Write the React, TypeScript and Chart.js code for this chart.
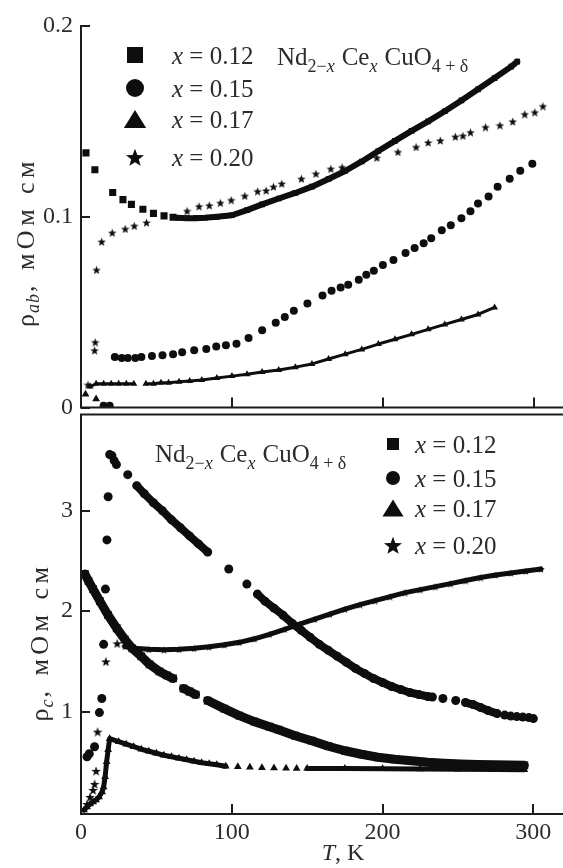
import React, { useEffect, useRef } from "react";
import { Chart, registerables } from "chart.js";

Chart.register(...registerables);

const SERIF = "'Liberation Serif', 'Times New Roman', Times, serif";
const INK = "#0e0e0e";
const TEXT = "#2c2c2c";
const AXIS = "#1c1c1c";

// ---------- axes ----------
const X_MIN = 0;
const X_MAX = 316;
const xTickValues = [0, 100, 200, 300];
const AB_MIN = 0;
const AB_MAX = 0.2;
const abTickValues = [0, 0.1, 0.2];
const C_MIN = -0.02;
const C_MAX = 3.96;
const cTickValues = [1, 2, 3];
const seriesX = ["0.12", "0.15", "0.17", "0.20"];
const markerKinds = ["square", "circle", "triangle", "star"];

// ---------- upper panel: rho_ab (mOhm cm) vs T (K) ----------
const abT012Pts = [3.3, 9.2, 21, 27.8, 33.4, 41, 48, 55, 61];
const abR012Pts = [0.1335, 0.1247, 0.1127, 0.109, 0.1065, 0.104, 0.1018, 0.1005, 0.0998];
const abT012Line = [64, 70, 76, 82, 90, 100, 110, 120, 131, 142, 153, 164, 175, 186, 197, 208, 219, 230, 241, 252, 263, 274, 285, 289];
const abR012Line = [0.0995, 0.0993, 0.0993, 0.0995, 0.1, 0.1008, 0.1035, 0.1065, 0.1096, 0.1125, 0.1158, 0.1198, 0.124, 0.129, 0.1345, 0.1398, 0.145, 0.15, 0.1553, 0.161, 0.1668, 0.1727, 0.1787, 0.1813];

const abT015 = [15, 19, 22.4, 27, 31, 36, 40, 47, 54, 61, 67, 75, 83, 89.6, 96, 103, 111, 120, 129, 135, 141, 150, 160, 166, 172, 177, 184, 189, 194, 200, 207, 215, 221, 227, 232, 239, 245, 252, 258, 263, 270, 276, 284, 291, 299];
const abR015 = [0.001, 0.001, 0.0265, 0.026, 0.026, 0.026, 0.0265, 0.027, 0.0275, 0.028, 0.029, 0.03, 0.0307, 0.032, 0.0327, 0.0335, 0.0365, 0.0405, 0.0445, 0.0475, 0.0508, 0.0545, 0.0587, 0.0613, 0.0629, 0.0644, 0.067, 0.0696, 0.0717, 0.0748, 0.0774, 0.081, 0.0836, 0.0862, 0.0888, 0.093, 0.0956, 0.0992, 0.1029, 0.107, 0.1106, 0.1158, 0.12, 0.1242, 0.1278];

const abT017Pts = [3, 10];
const abR017Pts = [0.007, 0.0045];
const abT017Line = [6, 10, 15, 20, 25, 30, 35, 39, 43, 48, 53, 58, 65, 72, 80, 90, 100, 110, 120, 131, 142, 153, 164, 175, 186, 197, 208, 219, 230, 241, 252, 263, 274];
const abR017Line = [0.011, 0.0125, 0.0125, 0.0125, 0.0125, 0.0125, 0.0125, null, 0.0125, 0.0125, 0.013, 0.013, 0.0135, 0.014, 0.0145, 0.0155, 0.0165, 0.0175, 0.0187, 0.0197, 0.0212, 0.0229, 0.0255, 0.028, 0.0305, 0.0333, 0.0358, 0.0384, 0.041, 0.0436, 0.0462, 0.0488, 0.0525];

const abT020 = [4.6, 9.0, 9.4, 10.3, 13.7, 20.7, 29.3, 35.3, 43.4, 70.3, 78.2, 85, 92.3, 99.5, 108.5, 117, 122.6, 127.5, 133, 146, 155.6, 165.5, 173, 196, 210, 222, 230, 238, 248, 253, 258, 268, 277.5, 286, 294, 300.6, 306];
const abR020 = [0.012, 0.03, 0.0343, 0.0722, 0.087, 0.0917, 0.0937, 0.0953, 0.097, 0.1031, 0.1055, 0.106, 0.1073, 0.1088, 0.111, 0.1134, 0.1138, 0.1158, 0.1174, 0.12, 0.1226, 0.1252, 0.126, 0.131, 0.134, 0.1366, 0.139, 0.14, 0.142, 0.1425, 0.1443, 0.147, 0.148, 0.15, 0.1538, 0.1548, 0.158];

// ---------- lower panel: rho_c (mOhm cm) vs T (K) ----------
const cT012 = [2.6, 5, 8, 12.5, 18, 23.7, 29, 34, 40, 45.5, 52, 57, 61, 64.5, 68, 72, 76, 80, 84, 95, 105, 115, 125, 131, 142, 153, 164, 175, 186, 197, 208, 219, 230, 241, 252, 263, 274, 284, 294];
const cR012 = [2.37, 2.3, 2.22, 2.1, 1.96, 1.83, 1.72, 1.63, 1.55, 1.47, 1.4, 1.36, 1.33, null, 1.23, 1.2, 1.17, null, 1.11, 1.03, 0.96, 0.9, 0.85, 0.82, 0.76, 0.71, 0.655, 0.61, 0.575, 0.545, 0.525, 0.51, 0.495, 0.485, 0.478, 0.473, 0.47, 0.467, 0.465];

const cT015Pts = [4, 5.5, 9, 12.2, 13.8, 15, 16.2, 17.2, 18, 19, 20.5, 22, 23.5, 31, 98, 110, 240, 248.5, 281, 285, 289, 293, 297, 300];
const cR015Pts = [0.55, 0.58, 0.65, 0.99, 1.13, 1.67, 2.22, 2.71, 3.14, 3.56, 3.55, 3.5, 3.46, 3.36, 2.42, 2.27, 1.13, 1.11, 0.965, 0.955, 0.95, 0.945, 0.94, 0.93];
const cT015Line = [37, 42, 48, 54, 60, 66, 72, 78, 84, 91, 117, 122, 128, 134, 140, 146, 152, 158, 164, 170, 176, 182, 188, 194, 200, 206, 212, 218, 224, 230, 233, 245, 255, 260, 265, 270, 276];
const cR015Line = [3.25, 3.17, 3.08, 3.0, 2.91, 2.83, 2.75, 2.67, 2.59, null, 2.17, 2.1, 2.03, 1.96, 1.88, 1.81, 1.74, 1.67, 1.61, 1.55, 1.49, 1.43, 1.38, 1.33, 1.29, 1.25, 1.22, 1.19, 1.17, 1.15, 1.145, null, 1.09, 1.07, 1.04, 1.01, 0.98];

const cT017Line = [2, 4, 6, 8, 10, 12, 14, 15, 16, 17, 18, 19, 25, 30, 35, 40, 45, 50, 55, 60, 65, 70, 75, 80, 85, 90, 96, 100, 150, 175, 200, 225, 250, 275, 294];
const cR017Line = [0.02, 0.05, 0.08, 0.1, 0.12, 0.15, 0.2, 0.25, 0.35, 0.5, 0.62, 0.73, 0.7, 0.675, 0.65, 0.625, 0.605, 0.585, 0.565, 0.55, 0.535, 0.52, 0.505, 0.49, 0.48, 0.47, 0.455, null, 0.433, 0.432, 0.43, 0.428, 0.426, 0.424, 0.42];
const cT017Pts = [104, 112, 120, 128, 136, 143];
const cR017Pts = [0.45, 0.445, 0.44, 0.437, 0.435, 0.434];

const cT020Pts = [4, 6, 8, 9, 10, 11, 16.5, 24];
const cR020Pts = [0.08, 0.15, 0.22, 0.28, 0.41, 0.8, 1.5, 1.68];
const cT020Line = [29, 35, 45, 55, 65, 75, 85, 95, 105, 115, 125, 135, 145, 155, 165, 175, 185, 195, 205, 215, 225, 235, 245, 255, 265, 275, 285, 295, 305];
const cR020Line = [1.65, 1.63, 1.62, 1.615, 1.62, 1.63, 1.645, 1.665, 1.69, 1.725, 1.77, 1.82, 1.87, 1.92, 1.97, 2.02, 2.065, 2.105, 2.145, 2.185, 2.215, 2.245, 2.275, 2.305, 2.335, 2.36, 2.38, 2.4, 2.42];

// ---------- helpers ----------
const xy = (ts: number[], vs: (number | null)[]) => ts.map((t, i) => ({ x: t, y: vs[i] }));

function starPath(ctx: CanvasRenderingContext2D, cx: number, cy: number, r: number) {
  const ri = r * 0.42;
  ctx.beginPath();
  for (let k = 0; k < 10; k++) {
    const rr = k % 2 ? ri : r;
    const a = -Math.PI / 2 + (k * Math.PI) / 5;
    const px = cx + rr * Math.cos(a);
    const py = cy + rr * Math.sin(a);
    if (k === 0) ctx.moveTo(px, py);
    else ctx.lineTo(px, py);
  }
  ctx.closePath();
}

function starImage(d: number) {
  const c = document.createElement("canvas");
  c.width = d;
  c.height = d;
  const g = c.getContext("2d")!;
  g.fillStyle = INK;
  starPath(g, d / 2, d / 2 + d * 0.06, d / 2);
  g.fill();
  return c;
}

function pointsDs(data: any[], style: any, radius: number) {
  return {
    data,
    showLine: false,
    pointStyle: style,
    pointRadius: radius,
    pointHoverRadius: radius,
    pointBackgroundColor: INK,
    pointBorderColor: INK,
    pointBorderWidth: 0,
    borderColor: INK,
    backgroundColor: INK,
  };
}

function curveDs(data: any[], style: any, radius: number, width: number) {
  return {
    data,
    showLine: true,
    spanGaps: false,
    tension: 0,
    borderWidth: width,
    borderColor: INK,
    backgroundColor: INK,
    borderJoinStyle: "round",
    borderCapStyle: "round",
    pointStyle: style,
    pointRadius: radius,
    pointHoverRadius: radius,
    pointBackgroundColor: INK,
    pointBorderColor: INK,
    pointBorderWidth: 0,
  };
}

type Run = { t: string; size: number; italic?: boolean; dy?: number; gap?: number; ls?: number };
const runFont = (r: Run) => `${r.italic ? "italic " : ""}${r.size}px ${SERIF}`;
function runWidth(ctx: CanvasRenderingContext2D, r: Run) {
  ctx.font = runFont(r);
  const ls = r.ls || 0;
  if (!ls) return ctx.measureText(r.t).width;
  let w = 0;
  for (const ch of Array.from(r.t)) w += ctx.measureText(ch).width + ls;
  return w;
}
function richWidth(ctx: CanvasRenderingContext2D, runs: Run[]) {
  let w = 0;
  for (const r of runs) w += runWidth(ctx, r) + (r.gap || 0);
  return w;
}
function drawRich(ctx: CanvasRenderingContext2D, runs: Run[], x: number, y: number) {
  ctx.textAlign = "left";
  ctx.textBaseline = "alphabetic";
  let cx = x;
  for (const r of runs) {
    ctx.font = runFont(r);
    const ls = r.ls || 0;
    if (!ls) {
      ctx.fillText(r.t, cx, y + (r.dy || 0));
      cx += ctx.measureText(r.t).width;
    } else {
      for (const ch of Array.from(r.t)) {
        ctx.fillText(ch, cx, y + (r.dy || 0));
        cx += ctx.measureText(ch).width + ls;
      }
    }
    cx += r.gap || 0;
  }
  return cx;
}

const formulaRuns = (M: number, S: number, d: number): Run[] => [
  { t: "Nd", size: M },
  { t: "2−", size: S, dy: d },
  { t: "x", size: S, italic: true, dy: d, gap: M * 0.28 },
  { t: "Ce", size: M },
  { t: "x", size: S, italic: true, dy: d, gap: M * 0.28 },
  { t: "CuO", size: M },
  { t: "4 + δ", size: S, dy: d },
];

function drawMarker(ctx: CanvasRenderingContext2D, kind: string, x: number, y: number, s: number) {
  ctx.fillStyle = INK;
  ctx.beginPath();
  if (kind === "square") {
    ctx.rect(x - s / 2, y - s / 2, s, s);
  } else if (kind === "circle") {
    ctx.arc(x, y, s / 2, 0, Math.PI * 2);
  } else if (kind === "triangle") {
    ctx.moveTo(x, y - s * 0.5);
    ctx.lineTo(x + s * 0.62, y + s * 0.5);
    ctx.lineTo(x - s * 0.62, y + s * 0.5);
    ctx.closePath();
  } else {
    starPath(ctx, x, y + s * 0.06, s / 2);
  }
  ctx.fill();
}

function drawLegend(
  ctx: CanvasRenderingContext2D,
  mx: number,
  tx: number,
  rows: number[],
  sizes: number[],
  fs: number
) {
  rows.forEach((y, i) => {
    drawMarker(ctx, markerKinds[i], mx, y, sizes[i]);
    ctx.fillStyle = TEXT;
    drawRich(ctx, [{ t: "x", size: fs, italic: true }, { t: " = " + seriesX[i], size: fs }], tx, y + fs * 0.34);
  });
}

function drawYTitle(ctx: CanvasRenderingContext2D, sub: string, cx: number, cy: number) {
  const runs: Run[] = [
    { t: "ρ", size: 26, gap: 1 },
    { t: sub, size: 18, italic: true, dy: 5, ls: 1, gap: 1 },
    { t: ", мОм см", size: 26, ls: 4.5 },
  ];
  ctx.save();
  ctx.translate(cx, cy);
  ctx.rotate(-Math.PI / 2);
  ctx.fillStyle = TEXT;
  const w = richWidth(ctx, runs);
  drawRich(ctx, runs, -w / 2, 7);
  ctx.restore();
}

function framePlugin(yId: string, yTicks: number[], topLine: boolean, deco: (ctx: CanvasRenderingContext2D) => void) {
  return {
    id: "frame_" + yId,
    afterDatasetsDraw(chart: any) {
      const { ctx, chartArea: a, scales } = chart;
      const xs = scales.x;
      const ys = scales[yId];
      const W = chart.width;
      ctx.save();
      ctx.strokeStyle = AXIS;
      ctx.lineWidth = 2;
      ctx.beginPath();
      ctx.moveTo(a.left, a.top - 1);
      ctx.lineTo(a.left, a.bottom + 1);
      ctx.moveTo(a.left - 1, a.bottom);
      ctx.lineTo(W, a.bottom);
      if (topLine) {
        ctx.moveTo(a.left - 1, a.top);
        ctx.lineTo(W, a.top);
      }
      for (const v of yTicks) {
        const y = Math.round(ys.getPixelForValue(v));
        ctx.moveTo(a.left, y);
        ctx.lineTo(a.left + 9, y);
      }
      for (const v of xTickValues) {
        if (v === 0) continue;
        const x = Math.round(xs.getPixelForValue(v));
        ctx.moveTo(x, a.bottom);
        ctx.lineTo(x, a.bottom - 10);
      }
      ctx.stroke();
      ctx.restore();
      ctx.save();
      deco(ctx);
      ctx.restore();
    },
  };
}

function yScale(min: number, max: number, ticks: number[]) {
  return {
    type: "linear",
    min,
    max,
    afterFit: (s: any) => {
      s.width = 81;
    },
    afterBuildTicks: (s: any) => {
      s.ticks = ticks.map((v) => ({ value: v }));
    },
    grid: { display: false, drawTicks: false },
    border: { display: false },
    ticks: {
      color: TEXT,
      padding: 8,
      autoSkip: false,
      font: { family: SERIF, size: 24 },
      callback: (v: any) => String(v),
    },
  };
}

const commonOptions = {
  responsive: false,
  maintainAspectRatio: false,
  animation: false,
  events: [],
  plugins: { legend: { display: false }, tooltip: { enabled: false } },
};

function makeTop(canvas: HTMLCanvasElement) {
  const star = starImage(9);
  return new Chart(canvas, {
    type: "line",
    data: {
      datasets: [
        pointsDs(xy(abT012Pts, abR012Pts), "rect", 5),
        curveDs(xy(abT012Line, abR012Line), "rect", 4, 6),
        pointsDs(xy(abT015, abR015), "circle", 4),
        pointsDs(xy(abT017Pts, abR017Pts), "triangle", 4.5),
        curveDs(xy(abT017Line, abR017Line), "triangle", 4, 3),
        pointsDs(xy(abT020, abR020), star, 3.5),
      ] as any,
    },
    options: {
      ...commonOptions,
      layout: { padding: { top: 26, bottom: 18, left: 0, right: 3 } },
      scales: {
        x: { type: "linear", min: X_MIN, max: X_MAX, display: false },
        y: yScale(AB_MIN, AB_MAX, abTickValues),
      },
    } as any,
    plugins: [
      framePlugin("y", abTickValues, false, (ctx) => {
        ctx.fillStyle = TEXT;
        drawRich(ctx, formulaRuns(25, 18, 7), 277, 65);
        drawLegend(ctx, 135, 172, [55, 88, 119, 157], [16, 18, 18, 19], 25);
        drawYTitle(ctx, "ab", 27, 242);
      }),
    ] as any,
  });
}

function makeBottom(canvas: HTMLCanvasElement) {
  const starBig = starImage(10);
  const starSmall = starImage(8);
  const OFF = 392;
  return new Chart(canvas, {
    type: "line",
    data: {
      datasets: [
        curveDs(xy(cT012, cR012), "rect", 5.5, 9),
        pointsDs(xy(cT015Pts, cR015Pts), "circle", 4.5),
        curveDs(xy(cT015Line, cR015Line), "circle", 4.5, 8),
        curveDs(xy(cT017Line, cR017Line), "triangle", 4.5, 5),
        pointsDs(xy(cT017Pts, cR017Pts), "triangle", 4.5),
        pointsDs(xy(cT020Pts, cR020Pts), starBig, 4),
        curveDs(xy(cT020Line, cR020Line), starSmall, 3.5, 5),
      ] as any,
    },
    options: {
      ...commonOptions,
      layout: { padding: { top: 20, bottom: 0, left: 0, right: 3 } },
      scales: {
        x: {
          type: "linear",
          min: X_MIN,
          max: X_MAX,
          afterFit: (s: any) => {
            s.height = 54;
          },
          afterBuildTicks: (s: any) => {
            s.ticks = xTickValues.map((v) => ({ value: v }));
          },
          grid: { display: false, drawTicks: false },
          border: { display: false },
          ticks: {
            color: TEXT,
            padding: 4,
            maxRotation: 0,
            autoSkip: false,
            font: { family: SERIF, size: 24 },
            callback: (v: any) => String(v),
          },
        },
        y: yScale(C_MIN, C_MAX, cTickValues),
      },
    } as any,
    plugins: [
      framePlugin("y", cTickValues, true, (ctx) => {
        ctx.fillStyle = TEXT;
        drawRich(ctx, formulaRuns(25, 18, 7), 155, 462 - OFF);
        drawLegend(ctx, 393, 415, [444 - OFF, 478 - OFF, 508 - OFF, 545 - OFF], [12, 14, 17, 19], 25);
        drawYTitle(ctx, "c", 41, 642 - OFF);
        ctx.fillStyle = TEXT;
        const runs: Run[] = [
          { t: "T", size: 24, italic: true },
          { t: ", K", size: 24 },
        ];
        const w = richWidth(ctx, runs);
        drawRich(ctx, runs, 343 - w / 2, 860 - OFF);
      }),
    ] as any,
  });
}

export default function App() {
  const topRef = useRef<HTMLCanvasElement>(null);
  const botRef = useRef<HTMLCanvasElement>(null);
  useEffect(() => {
    const charts = [makeTop(topRef.current!), makeBottom(botRef.current!)];
    return () => charts.forEach((c) => c.destroy());
  }, []);
  return (
    <div
      style={{
        position: "absolute",
        left: 0,
        top: 0,
        width: 563,
        height: 868,
        background: "#ffffff",
        overflow: "hidden",
      }}
    >
      <canvas
        ref={topRef}
        width={563}
        height={430}
        style={{ position: "absolute", left: 0, top: 0, width: 563, height: 430 }}
      />
      <canvas
        ref={botRef}
        width={563}
        height={476}
        style={{ position: "absolute", left: 0, top: 392, width: 563, height: 476 }}
      />
    </div>
  );
}
